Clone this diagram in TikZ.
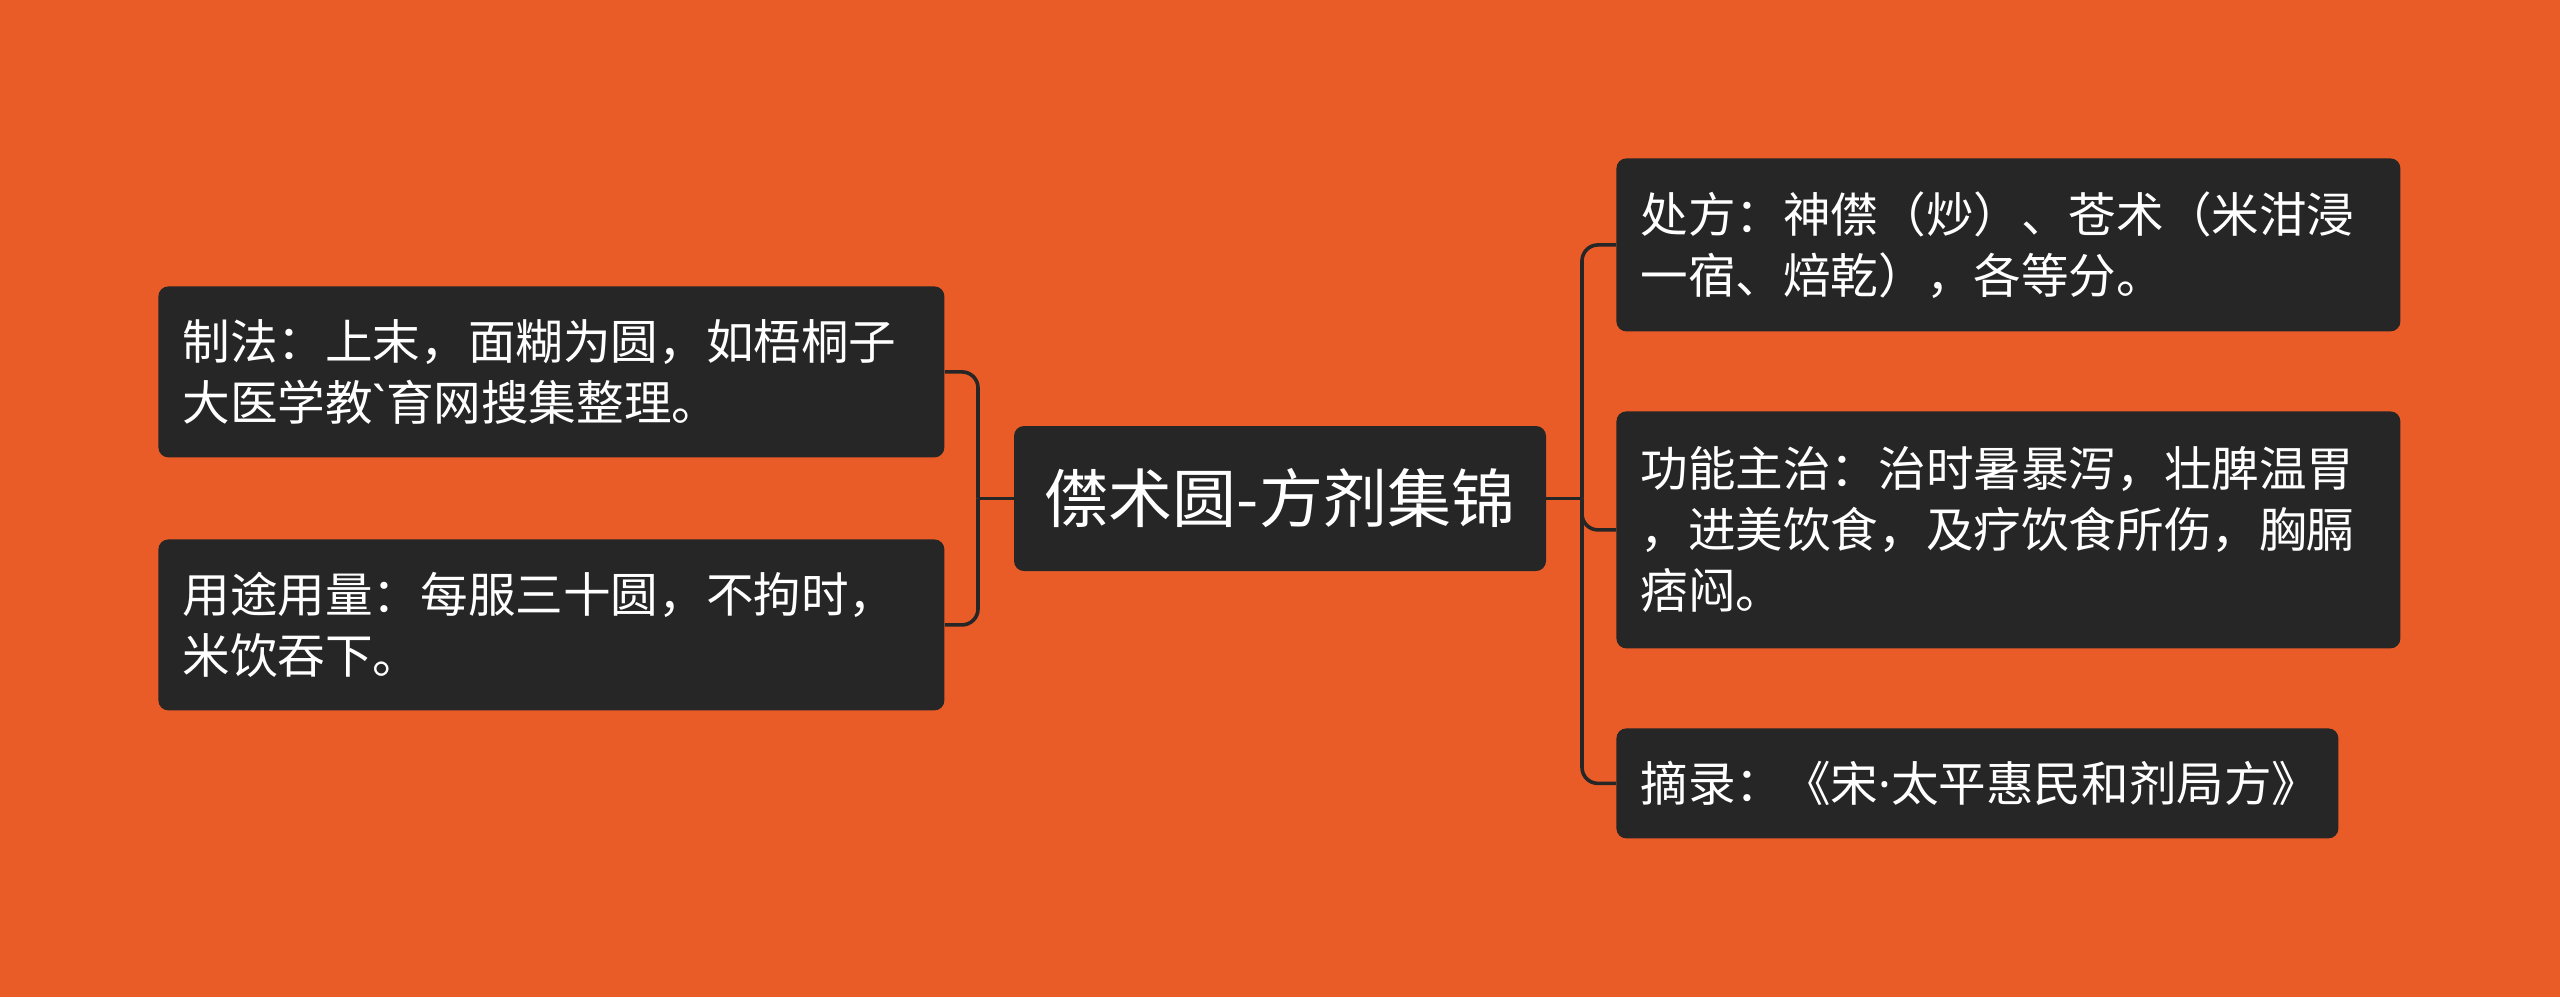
\documentclass[tikz,border=0pt]{standalone}
\usepackage{fontspec}
\newfontfamily\cjk{Noto Sans CJK SC}
\newfontfamily\latin{Noto Sans}
\definecolor{bgorange}{RGB}{233,92,40}
\definecolor{boxgray}{RGB}{38,38,38}
\begin{document}
\begin{tikzpicture}[x = 0.5pt, y = -0.5pt,
  topic/.style = {fill = boxgray, rounded corners = 5pt, text = white, align = left, anchor = north west,
    font = \cjk\fontsize{23.8}{30.5}\selectfont, inner xsep = 12pt, inner ysep = 0pt},
  root/.style = {fill = boxgray, rounded corners = 5pt, text = white, inner sep = 0pt,
    font = \cjk\fontsize{32}{38}\selectfont, minimum width = 266pt, minimum height = 72.5pt},
  link/.style = {draw = boxgray, line width = 1.8pt, rounded corners = 8pt}]
\useasboundingbox[fill = bgorange] (0,0) rectangle (2560,997);
\node[root] at (1280,498.5) (center) {僸术圆-方剂集锦};
\node[topic, text width = 369pt, minimum height = 85.5pt] at (158,286) (make) {制法：上末，面糊为圆，如梧桐子\\大医学教{\latin\char96}育网搜集整理。};
\node[topic, text width = 369pt, minimum height = 85.5pt] at (158,539) (dose) {用途用量：每服三十圆，不拘时，\\米饮吞下。};
\node[topic, text width = 368pt, minimum height = 86.5pt] at (1616,158) (recipe) {处方：神僸（炒）、苍术（米泔浸\\一宿、焙乾），各等分。};
\node[topic, text width = 368pt, minimum height = 118.5pt] at (1616,411) (use) {功能主治：治时暑暴泻，壮脾温胃\\，进美饮食，及疗饮食所伤，胸膈\\痞闷。};
\node[topic, text width = 337pt, minimum height = 55pt] at (1616,728) (src) {摘录：《宋{\latin ·}太平惠民和剂局方》};
\coordinate (lj) at (978,498.5);
\coordinate (rj) at (1582,498.5);
\draw[link] (center.west) -- (lj);
\draw[link] (lj) |- (make.east);
\draw[link] (lj) |- (dose.east);
\draw[link] (center.east) -- (rj);
\draw[link] (rj) |- (recipe.west);
\draw[link] (rj) |- (use.west);
\draw[link] (rj) |- (src.west);
\end{tikzpicture}
\end{document}
